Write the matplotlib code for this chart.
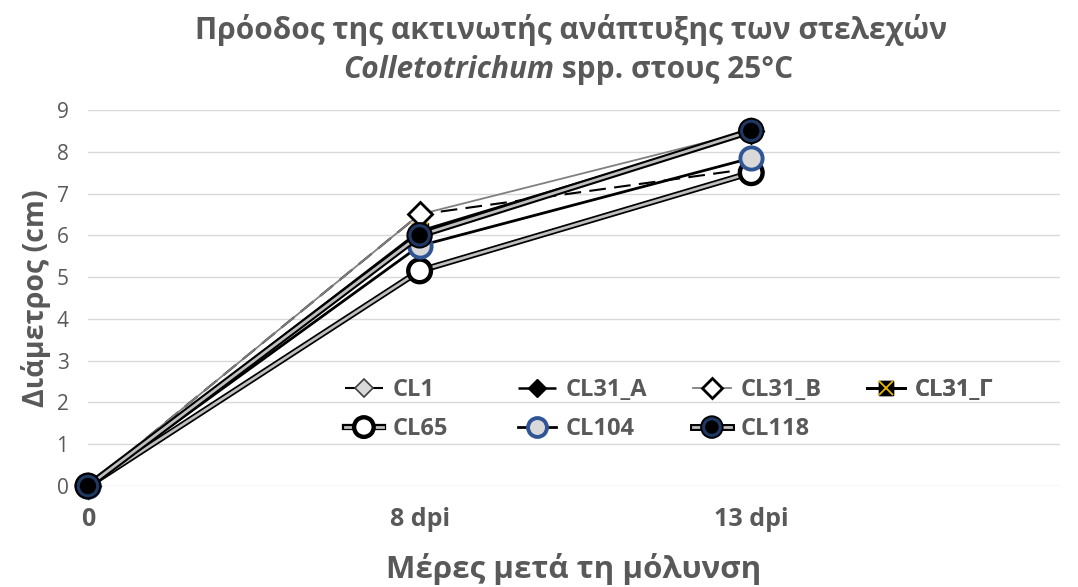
import matplotlib.pyplot as plt
import matplotlib.patheffects as pe
from matplotlib.legend_handler import HandlerTuple

# data
days = ["0", "8 dpi", "13 dpi"]
cl1 = [0, 6.5, 7.6]
cl31_a = [0, 6.0, 8.5]
cl31_b = [0, 6.5, 8.5]
cl31_g = [0, 6.1, 8.5]
cl65 = [0, 5.15, 7.5]
cl104 = [0, 5.75, 7.85]
cl118 = [0, 6.0, 8.5]
labels = ["CL1", "CL31_A", "CL31_B", "CL31_Γ", "CL65", "CL104", "CL118"]

txt = "#595959"
plt.rcParams['font.family'] = ['Open Sans', 'DejaVu Sans']

fig = plt.figure(figsize=(10.78, 5.87), dpi=100)
ax = fig.add_axes([0.0816, 0.172, 0.9014, 0.6406])
x = list(range(len(days)))

handles = []
h, = ax.plot(x, cl1, color="black", lw=1.5, ls=(0, (8, 4)), marker="D", ms=11,
             mfc="#d9d9d9", mec="#404040", mew=1.2)
handles.append(h)
h, = ax.plot(x, cl31_a, color="black", lw=1.8, ls="-.", marker="D", ms=11,
             mfc="black", mec="black")
handles.append(h)
h, = ax.plot(x, cl31_b, color="#808080", lw=1.3, marker="D", ms=12,
             mfc="white", mec="black", mew=2)
handles.append(h)
h1, = ax.plot(x, cl31_g, color="black", lw=2, marker="s", ms=12,
              mfc="black", mec="black")
h2, = ax.plot(x, cl31_g, ls="none", marker="x", ms=12, mec="#e6b800", mew=1.3)
handles.append((h1, h2))
h, = ax.plot(x, cl65, color="#bfbfbf", lw=2, marker="o", ms=15,
             mfc="white", mec="black", mew=1.8,
             path_effects=[pe.Stroke(linewidth=4.5, foreground="black"), pe.Normal()])
handles.append(h)
h, = ax.plot(x, cl104, color="black", lw=2, marker="o", ms=16,
             mfc="#d9d9d9", mec="#2f5597", mew=2.8)
handles.append(h)
h, = ax.plot(x, cl118, color="#bfbfbf", lw=2, marker="o", ms=14,
             mfc="black", mec="#1f3864", mew=2.2,
             path_effects=[pe.Stroke(linewidth=5, foreground="black"), pe.Normal()])
handles.append(h)

# legend: one small legend per column so columns are evenly spaced
col_x = [345, 518, 693, 867]
for c in range(4):
    idx = [i for i in (c, c + 4) if i < len(handles)]
    leg = ax.legend([handles[i] for i in idx], [labels[i] for i in idx],
                    frameon=False, loc="upper left",
                    bbox_to_anchor=(col_x[c] / 1078, 1 - 378 / 587),
                    bbox_transform=fig.transFigure, borderpad=0, borderaxespad=0,
                    handler_map={tuple: HandlerTuple(ndivide=1, pad=0)},
                    handlelength=1.6, handletextpad=0.4, labelspacing=0.65,
                    markerscale=0.85, prop={"size": 17, "weight": "bold"})
    for t in leg.get_texts():
        t.set_color(txt)
    ax.add_artist(leg)

ax.set_xlim(0, 2.93)
ax.set_ylim(0, 9)
ax.set_yticks(range(10))
ax.set_xticks(x)
ax.set_xticklabels(days, fontweight="bold")
ax.tick_params(axis="y", length=0, pad=14, labelsize=15, labelcolor=txt)
ax.tick_params(axis="x", length=0, pad=15, labelsize=18, labelcolor=txt)
ax.grid(axis="y", color="#d9d9d9", lw=1)
ax.set_axisbelow(True)
for s in ax.spines.values():
    s.set_visible(False)
for c in ax.get_lines():
    c.set_clip_on(False)

ax.set_ylabel("Διάμετρος (cm)", fontsize=20.5, fontweight="bold", color=txt, labelpad=4)
ax.set_xlabel("Μέρες μετά τη μόλυνση", fontsize=22.5, fontweight="bold", color=txt, labelpad=15)

# title, second line mixes italic and upright text
tkw = dict(fontsize=21.5, color=txt, fontweight="bold", va="center")
fig.text(0.530, 1 - 30 / 587, "Πρόοδος της ακτινωτής ανάπτυξης των στελεχών", ha="center", **tkw)
r = fig.canvas.get_renderer()
t1 = fig.text(0, 1 - 70 / 587, "Colletotrichum", style="italic", ha="left", **tkw)
t2 = fig.text(0, 1 - 70 / 587, " spp. στους 25°C", ha="left", **tkw)
w1 = t1.get_window_extent(r).width
w2 = t2.get_window_extent(r).width
x0 = 568 - (w1 + w2) / 2
t1.set_x(x0 / 1078)
t2.set_x((x0 + w1) / 1078)

fig.savefig("out.png", dpi=100)
